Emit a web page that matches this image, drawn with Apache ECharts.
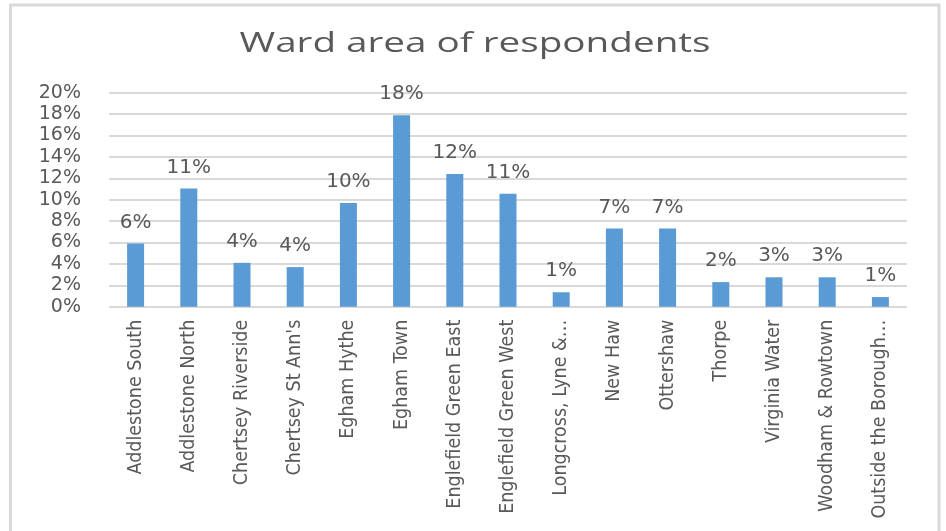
<!DOCTYPE html>
<html>
<head>
<meta charset="utf-8">
<script src="https://cdn.jsdelivr.net/npm/echarts@6/dist/echarts.min.js"></script>
<style>
html,body{margin:0;padding:0;background:#fff;}
#chart{width:946px;height:531px;}
</style>
</head>
<body>
<div id="chart"></div>
<script>
var titleText = 'Ward area of respondents';
var categories = ['Addlestone South','Addlestone North','Chertsey Riverside',"Chertsey St Ann's",'Egham Hythe','Egham Town','Englefield Green East','Englefield Green West','Longcross, Lyne &\u2026','New Haw','Ottershaw','Thorpe','Virginia Water','Woodham & Rowtown','Outside the Borough\u2026'];
var values = [5.9, 11.05, 4.1, 3.7, 9.7, 17.9, 12.4, 10.55, 1.35, 7.3, 7.3, 2.3, 2.75, 2.75, 0.9];
var yTicks = [0, 2, 4, 6, 8, 10, 12, 14, 16, 18, 20];

var chart = echarts.init(document.getElementById('chart'), null, {renderer:'canvas'});
var grey = '#595959';
chart.setOption({
  animation: false,
  backgroundColor: '#ffffff',
  graphic: [
    {type:'rect', shape:{x:10.5, y:5, width:928.5, height:560}, style:{fill:'none', stroke:'#d9d9d9', lineWidth:3}, silent:true},
    {type:'text', x:475, y:44, scaleX:1.38, style:{text:titleText, fill:grey, fontSize:28, fontFamily:'Open Sans', align:'center', verticalAlign:'middle', textAlign:'center', textVerticalAlign:'middle'}}
  ],
  grid: {left:109, right:39, top:92.7, bottom:224.3, containLabel:false, outerBoundsMode:'none'},
  xAxis: {
    type:'category',
    data: categories,
    axisLine:{show:false},
    axisTick:{show:false},
    axisLabel:{rotate:90, margin:13, color:grey, fontSize:19.5, fontFamily:"'Liberation Sans Narrow', 'DejaVu Sans Condensed', sans-serif", interval:0}
  },
  yAxis: {
    type:'value',
    min: yTicks[0],
    max: yTicks[yTicks.length-1],
    interval: yTicks[1]-yTicks[0],
    axisLine:{show:false},
    axisTick:{show:false},
    axisLabel:{formatter:'{value}%', margin:28, color:grey, fontSize:19, fontFamily:'DejaVu Sans'},
    splitLine:{lineStyle:{color:'#d9d9d9', width:2}}
  },
  series: [{
    type:'bar',
    data: values,
    barWidth:17,
    itemStyle:{color:'#5B9BD5'},
    label:{show:true, position:'top', distance:11, color:grey, fontSize:20, fontFamily:'DejaVu Sans',
      formatter:function(p){return Math.round(p.value)+'%';}}
  }]
});
</script>
</body>
</html>
